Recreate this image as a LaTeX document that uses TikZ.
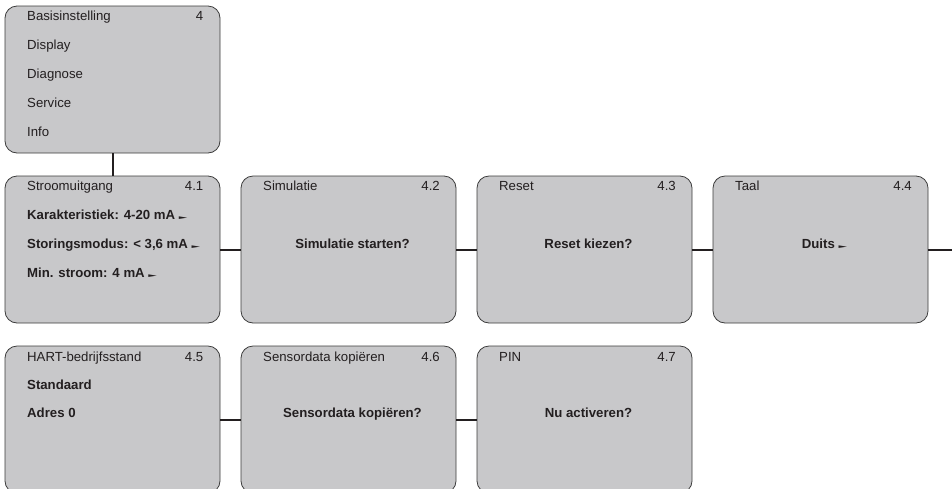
\documentclass[tikz,border=0pt]{standalone}
\usepackage{fontspec}
\usepackage{graphicx}
\setmainfont{Liberation Sans}
\newfontfamily\symfont{DejaVu Sans}
\definecolor{panel}{HTML}{C8C8CA}
\definecolor{rim}{HTML}{3C3C3C}
\definecolor{ink}{HTML}{231F20}
\newcommand{\ptr}{ {\symfont\scalebox{0.85}[0.4]{►}}}

\begin{document}
\begin{tikzpicture}[x=1pt, y=-1pt,
  panelbox/.style={draw=rim, fill=panel, line width=0.8pt, rounded corners=12pt,
    minimum width=215pt, minimum height=147pt, inner sep=0pt},
  lbl/.style={anchor=base west, inner sep=0pt, text=ink, font=\fontsize{13.2}{16}\selectfont},
  lblb/.style={lbl, font=\fontsize{13.2}{16}\selectfont\bfseries},
  num/.style={lbl, anchor=base east},
  mid/.style={lblb, anchor=base},
  wire/.style={draw=ink, line width=2pt}]
\useasboundingbox (0,0) rectangle (952,488);
\clip (0,0) rectangle (952,488);

\node[panelbox] (bas) at (112.5,79.5) {};
\node[lbl] (bas-t) at (27,20) {Basisinstelling};
\node[num] (bas-n) at (203.5,20) {4};
\node[lbl] (bas-1) at (27,49) {Display};
\node[lbl] (bas-2) at (27,78) {Diagnose};
\node[lbl] (bas-3) at (27,107) {Service};
\node[lbl] (bas-4) at (27,136) {Info};

\node[panelbox] (strm) at (112.5,249.5) {};
\node[lbl] (strm-t) at (27,190) {Stroomuitgang};
\node[num] (strm-n) at (203.5,190) {4.1};
\node[lblb] (strm-1) at (27,219) {Karakteristiek: 4-20 mA\ptr};
\node[lblb] (strm-2) at (27,248) {Storingsmodus: < 3,6 mA\ptr};
\node[lblb] (strm-3) at (27,277) {Min. stroom: 4 mA\ptr};

\node[panelbox] (sim) at (348.5,249.5) {};
\node[lbl] (sim-t) at (263,190) {Simulatie};
\node[num] (sim-n) at (440,190) {4.2};
\node[mid] (sim-m) at (352.5,248) {Simulatie starten?};

\node[panelbox] (reset) at (584.5,249.5) {};
\node[lbl] (reset-t) at (499,190) {Reset};
\node[num] (reset-n) at (676,190) {4.3};
\node[mid] (reset-m) at (588.5,248) {Reset kiezen?};

\node[panelbox] (taal) at (820.5,249.5) {};
\node[lbl] (taal-t) at (735,190) {Taal};
\node[num] (taal-n) at (912,190) {4.4};
\node[mid] (taal-m) at (824.5,248) {Duits\ptr};
\coordinate (edge) at (952,249.5);

\node[panelbox] (hart) at (112.5,419.5) {};
\node[lbl] (hart-t) at (27,361) {HART-bedrijfsstand};
\node[num] (hart-n) at (203.5,361) {4.5};
\node[lblb] (hart-1) at (27,389) {Standaard};
\node[lblb] (hart-2) at (27,417) {Adres 0};

\node[panelbox] (sens) at (348.5,419.5) {};
\node[lbl] (sens-t) at (263,361) {Sensordata kopiëren};
\node[num] (sens-n) at (440,361) {4.6};
\node[mid] (sens-m) at (352.5,417) {Sensordata kopiëren?};

\node[panelbox] (pin) at (584.5,419.5) {};
\node[lbl] (pin-t) at (499,361) {PIN};
\node[num] (pin-n) at (676,361) {4.7};
\node[mid] (pin-m) at (588.5,417) {Nu activeren?};

\draw[wire] (bas) -- (strm);
\draw[wire] (strm) -- (sim);
\draw[wire] (sim) -- (reset);
\draw[wire] (reset) -- (taal);
\draw[wire] (taal) -- (edge);
\draw[wire] (hart) -- (sens);
\draw[wire] (sens) -- (pin);
\end{tikzpicture}
\end{document}
